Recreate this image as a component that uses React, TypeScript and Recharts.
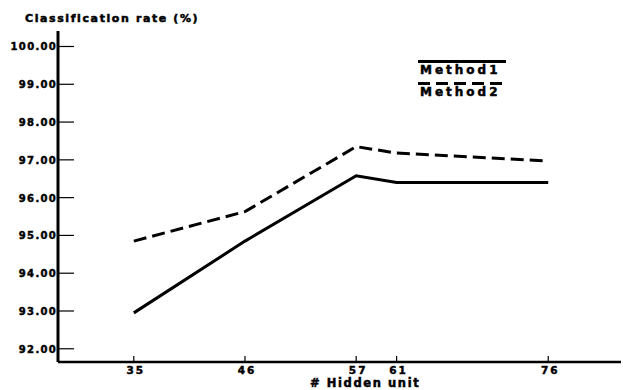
import { LineChart, Line, XAxis, YAxis, Legend } from 'recharts';

// ── data ────────────────────────────────────────────────────────────
const hiddenUnits = [35, 46, 57, 61, 76];
const method1 = [92.95, 94.85, 96.58, 96.4, 96.4];
const method2 = [94.85, 95.63, 97.35, 97.18, 96.97];
const yTicks = [92, 93, 94, 95, 96, 97, 98, 99, 100];

const SERIES = [
  { key: 'method1', name: 'Method1', dash: undefined as string | undefined },
  { key: 'method2', name: 'Method2', dash: '13 6' },
];

const data = hiddenUnits.map((h, i) => ({ h, method1: method1[i], method2: method2[i] }));

const FONT = '"DejaVu Sans", sans-serif';
const M = 4; // tickMargin used by all axes
const HEAVY = { WebkitTextStroke: '0.5px #000' } as const;

// ── custom ticks (drawn inside the frame) ───────────────────────────
function LeftTick(props: any) {
  const { x, y, payload } = props;
  const ax = x + M;
  return (
    <g>
      <line x1={ax} x2={ax + 16} y1={y} y2={y} stroke="#000" strokeWidth={1.2} />
      <text
        x={ax - 1}
        y={y}
        dy={4}
        textAnchor="end"
        fontSize={10}
        fontWeight="bold"
        fontFamily={FONT}
        letterSpacing={1.3}
        fill="#000"
        stroke="#000"
        strokeWidth={0.45}
      >
        {payload.value.toFixed(2)}
      </text>
    </g>
  );
}

function RightTick(props: any) {
  const { x, y } = props;
  const ax = x - M;
  return <line x1={ax} x2={ax - 16} y1={y} y2={y} stroke="#000" strokeWidth={1.2} />;
}

function BottomTick(props: any) {
  const { x, y, payload } = props;
  const ay = y - M;
  return (
    <g>
      <line x1={x} x2={x} y1={ay} y2={ay - 6} stroke="#000" strokeWidth={1.2} />
      <text
        x={x + 2}
        y={ay}
        dy={12}
        textAnchor="middle"
        fontSize={10.5}
        fontWeight="bold"
        fontFamily={FONT}
        letterSpacing={2}
        fill="#000"
        stroke="#000"
        strokeWidth={0.45}
      >
        {payload.value}
      </text>
    </g>
  );
}

function TopTick(props: any) {
  const { x, y } = props;
  const ay = y + M;
  return <line x1={x} x2={x} y1={ay} y2={ay + 6} stroke="#000" strokeWidth={1.2} />;
}

// ── legend: line sample above each name ─────────────────────────────
function LegendBox() {
  return (
    <div style={{ fontFamily: FONT, fontWeight: 'bold', fontSize: 12, letterSpacing: 3, ...HEAVY }}>
      {SERIES.map((s) => (
        <div key={s.key} style={{ marginBottom: 4 }}>
          <svg width={88} height={5} style={{ display: 'block' }}>
            <line x1={0} x2={88} y1={2.5} y2={2.5} stroke="#000" strokeWidth={3} strokeDasharray={s.dash ? '12 6' : undefined} />
          </svg>
          <div style={{ lineHeight: '13px', marginLeft: 2 }}>{s.name}</div>
        </div>
      ))}
    </div>
  );
}

export default function App() {
  return (
    <div style={{ position: 'absolute', left: 0, top: 0, width: 623, height: 390, overflow: 'hidden', background: '#fff' }}>
      <div
        style={{
          position: 'absolute',
          left: 25,
          top: 12,
          fontFamily: FONT,
          fontWeight: 'bold',
          fontSize: 11,
          letterSpacing: 1.6,
          lineHeight: '13px',
          ...HEAVY,
        }}
      >
        Classification rate (%)
      </div>
      <div
        style={{
          position: 'absolute',
          left: 310,
          top: 377,
          fontFamily: FONT,
          fontWeight: 'bold',
          fontSize: 11.5,
          letterSpacing: 1.6,
          lineHeight: '12px',
          ...HEAVY,
        }}
      >
        # Hidden unit
      </div>
      <LineChart width={623} height={390} data={data} margin={{ top: 31, right: 2, left: 0, bottom: 0 }}>
        <XAxis
          dataKey="h"
          type="number"
          domain={[27.5, 83.2]}
          ticks={hiddenUnits}
          allowDataOverflow
          height={28}
          tickSize={0}
          tickMargin={M}
          tick={<BottomTick />}
          axisLine={{ stroke: '#000', strokeWidth: 2.5 }}
        />
        <XAxis
          xAxisId="top"
          orientation="top"
          dataKey="h"
          type="number"
          domain={[27.5, 83.2]}
          ticks={hiddenUnits}
          allowDataOverflow
          height={0}
          tickSize={0}
          tickMargin={M}
          tick={<TopTick />}
          axisLine={{ stroke: '#000', strokeWidth: 1.5 }}
        />
        <YAxis
          type="number"
          domain={[91.65, 100.41]}
          ticks={yTicks}
          allowDataOverflow
          width={58}
          tickSize={0}
          tickMargin={M}
          tick={<LeftTick />}
          axisLine={{ stroke: '#000', strokeWidth: 3 }}
        />
        <YAxis
          yAxisId="r"
          orientation="right"
          type="number"
          domain={[91.65, 100.41]}
          ticks={yTicks}
          allowDataOverflow
          width={0}
          tickSize={0}
          tickMargin={M}
          tick={<RightTick />}
          axisLine={{ stroke: '#000', strokeWidth: 1.5 }}
        />
        <Legend
          layout="vertical"
          align="center"
          verticalAlign="middle"
          content={<LegendBox />}
          wrapperStyle={{ position: 'absolute', left: 418, top: 59, width: 100 }}
        />
        {SERIES.map((s) => (
          <Line
            key={s.key}
            dataKey={s.key}
            name={s.name}
            stroke="#000"
            strokeWidth={3}
            strokeDasharray={s.dash}
            dot={false}
            activeDot={false}
            isAnimationActive={false}
          />
        ))}
      </LineChart>
    </div>
  );
}
